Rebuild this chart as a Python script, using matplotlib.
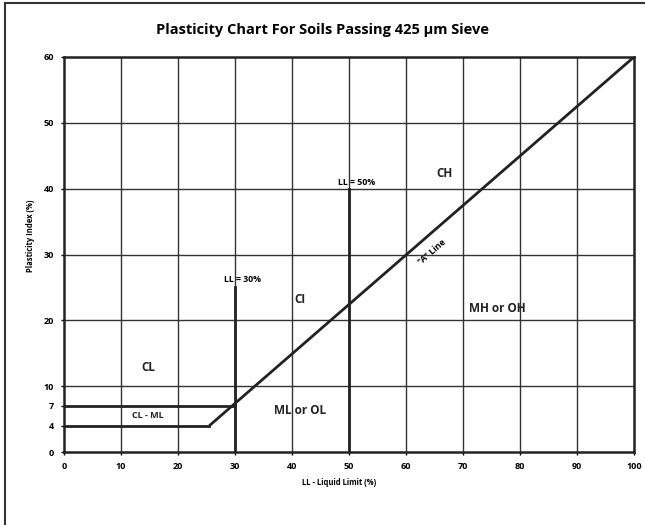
import matplotlib
matplotlib.use("Agg")
import matplotlib.pyplot as plt
from matplotlib.lines import Line2D

# ---- data ----
x_ticks = [0, 10, 20, 30, 40, 50, 60, 70, 80, 90, 100]
y_ticks = [0, 4, 7, 10, 20, 30, 40, 50, 60]
x_grid = [10, 20, 30, 40, 50, 60, 70, 80, 90]
y_grid = [10, 20, 30, 40, 50]

a_line_ll = [25.5, 100]
a_line_pi = [4, 60]
cl_ml_top_ll = [0, 30]
cl_ml_top_pi = [7, 7]
cl_ml_bot_ll = [0, 25.5]
cl_ml_bot_pi = [4, 4]
ll30_x = [30, 30]
ll30_y = [0, 25]
ll50_x = [50, 50]
ll50_y = [0, 40]

zone_labels = ["CL", "CL - ML", "ML or OL", "CI", "CH", "MH or OH"]
zone_ll = [14.8, 14.7, 41.4, 41.4, 66.8, 76.1]
zone_pi = [12.8, 5.5, 6.3, 23.1, 42.3, 21.8]

plt.rcParams['font.family'] = ['Open Sans', 'DejaVu Sans']

fig = plt.figure(figsize=(6.45, 5.25), dpi=100)
ax = fig.add_axes([64/645, 1-452/525, (634-64)/645, (452-57)/525])

ax.set_xlim(0, 100)
ax.set_ylim(0, 60)

for gx in x_grid:
    ax.axvline(gx, color='#333333', lw=1.0, zorder=1)
for gy in y_grid:
    ax.axhline(gy, color='#333333', lw=1.0, zorder=1)

lw = 2.0
ax.plot(a_line_ll, a_line_pi, color='#222222', lw=lw, zorder=3, solid_capstyle='butt')
ax.plot(cl_ml_top_ll, cl_ml_top_pi, color='#222222', lw=lw, zorder=3)
ax.plot(cl_ml_bot_ll, cl_ml_bot_pi, color='#222222', lw=lw, zorder=3)
ax.plot(ll30_x, ll30_y, color='#222222', lw=lw, zorder=3)
ax.plot(ll50_x, ll50_y, color='#222222', lw=lw, zorder=3)

for s in ax.spines.values():
    s.set_linewidth(1.8)
    s.set_color('#222222')

ax.set_xticks(x_ticks)
ax.set_yticks(y_ticks)
ax.set_xticklabels([str(v) for v in x_ticks], fontsize=6.5, fontweight='bold')
ax.set_yticklabels([str(v) for v in y_ticks], fontsize=6.5, fontweight='bold')
ax.tick_params(length=2, width=1, pad=5)

for lab, lx, ly in zip(zone_labels, zone_ll, zone_pi):
    ax.text(lx, ly, lab, fontsize=8.5 if lab != "CL - ML" else 6.5,
            fontweight='bold', ha='center', va='center', color='#222222', zorder=4)

ax.text(31.3, 26.2, "LL = 30%", fontsize=6.3, fontweight='bold', ha='center', va='center')
ax.text(51.4, 40.9, "LL = 50%", fontsize=6.3, fontweight='bold', ha='center', va='center')
ax.text(64.6, 30.4, '"A" Line', fontsize=6.3, fontweight='bold', ha='center', va='center',
        rotation=41)

ax.set_xlabel("LL - Liquid Limit (%)", fontsize=5.5, fontweight='bold')
ax.xaxis.set_label_coords((339-64)/570, -(478-452)/395)
ax.set_ylabel("Plasticity Index (%)", fontsize=5.5, fontweight='bold')
ax.yaxis.set_label_coords(-(64-35)/570, (452-236)/395)

fig.text(0.5, 1-30/525, "Plasticity Chart For Soils Passing 425 \u03bcm Sieve",
         ha='center', va='center', fontsize=10.5, fontweight='bold')

# figure frame (left and top edges)
fig.add_artist(Line2D([5/645, 5/645], [0, 1-3/525], transform=fig.transFigure,
                      color='#333333', lw=1.5))
fig.add_artist(Line2D([5/645, 1], [1-3/525, 1-3/525], transform=fig.transFigure,
                      color='#333333', lw=1.5))

fig.savefig("out.png", dpi=100)
